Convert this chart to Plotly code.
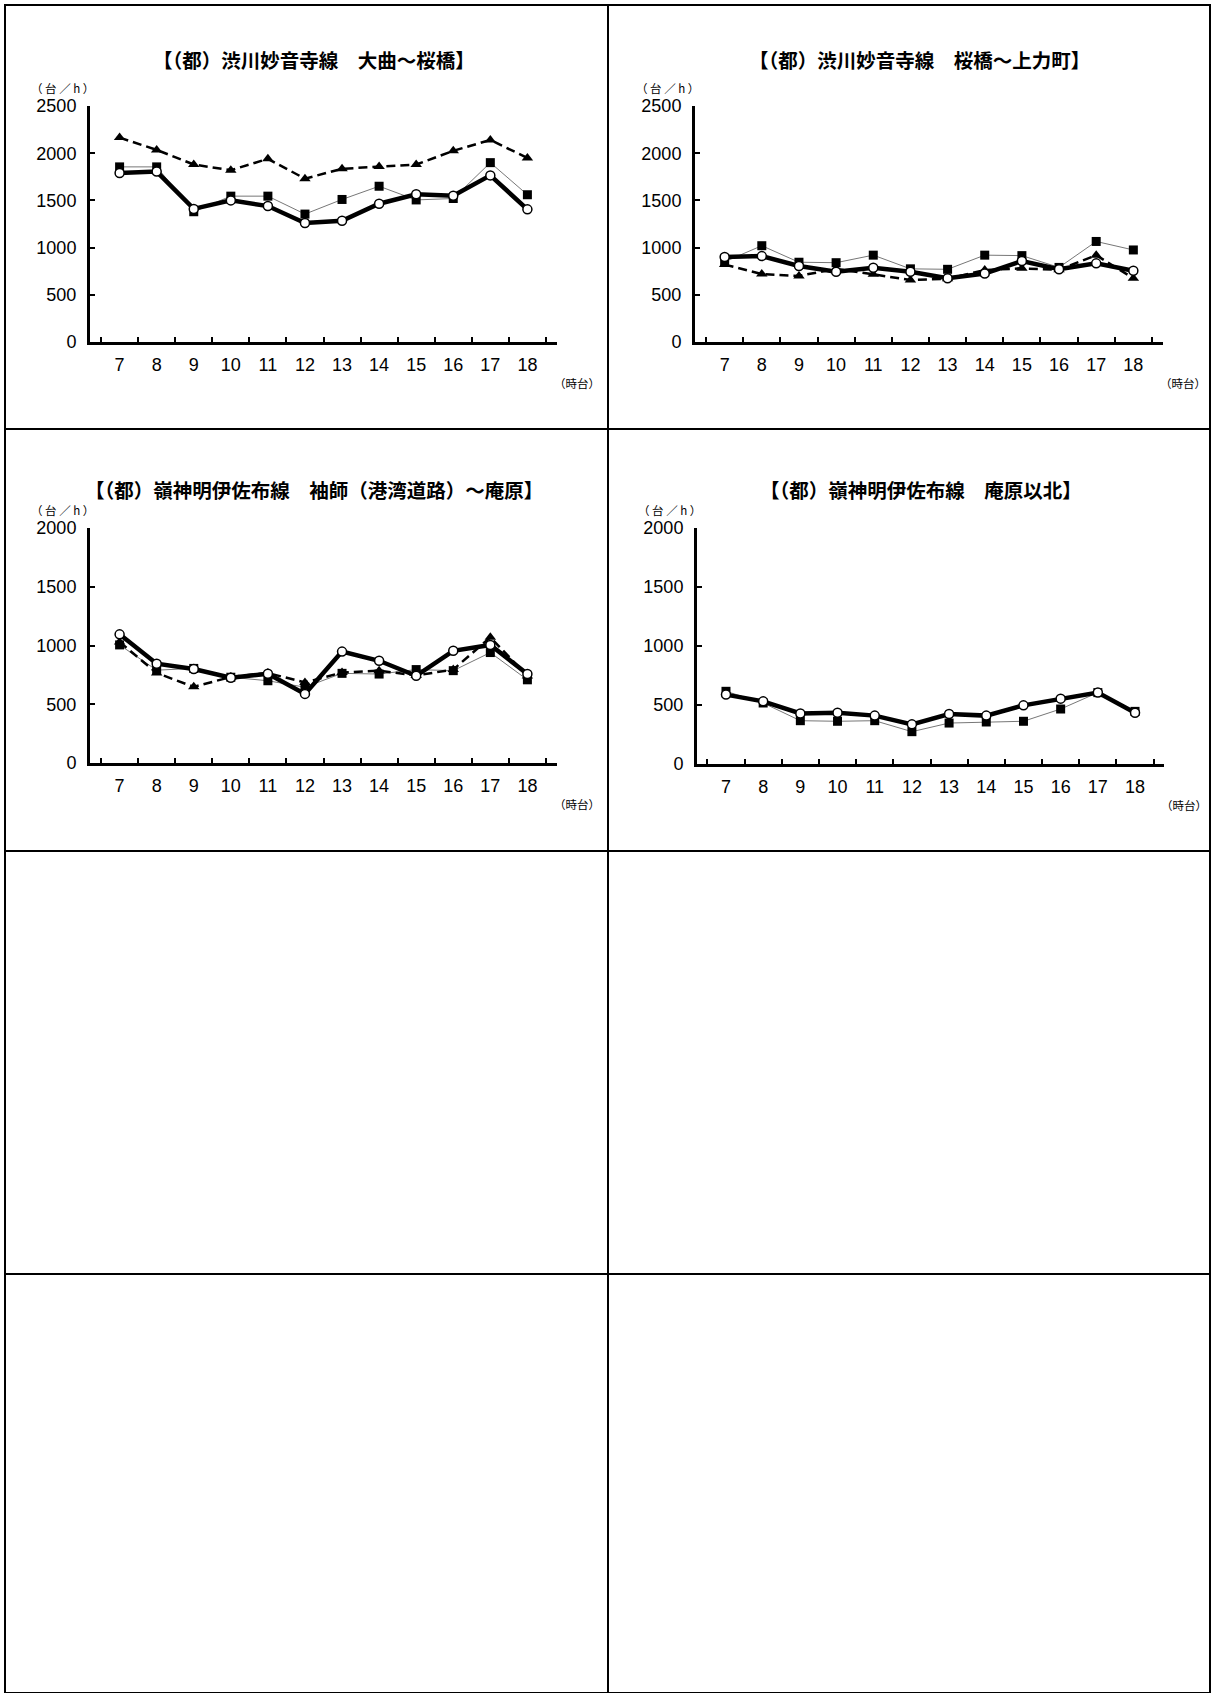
import plotly.graph_objects as go

W, H = 1213, 1693

hours = ["7", "8", "9", "10", "11", "12", "13", "14", "15", "16", "17", "18"]

titles = [
    "【（都）渋川妙音寺線　大曲～桜橋】",
    "【（都）渋川妙音寺線　桜橋～上力町】",
    "【（都）嶺神明伊佐布線　袖師（港湾道路）～庵原】",
    "【（都）嶺神明伊佐布線　庵原以北】",
]
y_max = [2500, 2500, 2000, 2000]

# series per panel: squares (thin grey), triangles (dashed), circles (thick)
p1_square = [1855, 1855, 1380, 1545, 1545, 1355, 1510, 1650, 1505, 1520, 1900, 1560]
p1_triangle = [2165, 2035, 1880, 1820, 1940, 1730, 1835, 1860, 1880, 2025, 2140, 1950]
p1_circle = [1790, 1805, 1410, 1500, 1440, 1260, 1285, 1465, 1565, 1550, 1765, 1405]

p2_square = [850, 1020, 845, 840, 920, 775, 770, 920, 915, 790, 1065, 975]
p2_triangle = [820, 720, 700, 775, 717, 657, 670, 763, 780, 765, 920, 675]
p2_circle = [900, 910, 805, 745, 787, 745, 675, 725, 858, 770, 833, 755]

p3_square = [1005, 790, 805, 730, 700, 645, 763, 757, 795, 786, 940, 708]
p3_triangle = [1030, 766, 648, 732, 766, 685, 770, 786, 745, 795, 1070, 740]
p3_circle = [1095, 845, 800, 725, 760, 588, 948, 870, 742, 955, 1005, 757]

p4_square = [616, 517, 367, 362, 367, 274, 347, 356, 362, 466, 605, 446]
p4_circle = [588, 531, 429, 435, 410, 336, 424, 410, 497, 554, 605, 435]

panels = [
    (p1_square, p1_triangle, p1_circle),
    (p2_square, p2_triangle, p2_circle),
    (p3_square, p3_triangle, p3_circle),
    (p4_square, None, p4_circle),
]

# plot areas in pixels: left, right, top, bottom
boxes = [
    (90, 557, 106, 342),
    (695, 1163, 106, 342),
    (90, 557, 528, 763),
    (697, 1164, 528, 764),
]

JP = "Noto Sans CJK JP"
NUM = "Liberation Sans, Arial, sans-serif"


def px(x):
    return x / W


def py(y):
    return 1 - y / H


fig = go.Figure()

for i, (sq, tri, circ) in enumerate(panels):
    n = "" if i == 0 else str(i + 1)
    xa, ya = "x" + n, "y" + n
    fig.add_trace(go.Scatter(
        x=hours, y=sq, xaxis=xa, yaxis=ya, mode="lines+markers",
        line=dict(color="#777777", width=1),
        marker=dict(symbol="square", size=9, color="black"),
        showlegend=False,
    ))
    if tri is not None:
        fig.add_trace(go.Scatter(
            x=hours, y=tri, xaxis=xa, yaxis=ya, mode="lines+markers",
            line=dict(color="black", width=2.5, dash="9px,5px"),
            marker=dict(symbol="triangle-up", size=10, color="black"),
            showlegend=False,
        ))
    fig.add_trace(go.Scatter(
        x=hours, y=circ, xaxis=xa, yaxis=ya, mode="lines+markers",
        line=dict(color="black", width=4.5),
        marker=dict(symbol="circle", size=9, color="white",
                    line=dict(color="black", width=1.5)),
        showlegend=False,
    ))

    l, r, t, b = boxes[i]
    fig.update_layout({
        "xaxis" + n: dict(
            domain=[px(l), px(r)], anchor=ya, type="category",
            tickson="boundaries", ticks="inside", ticklen=5, tickwidth=1.5,
            tickcolor="black", showline=True, linecolor="black", linewidth=3,
            showgrid=False, zeroline=False, ticklabelstandoff=4,
            automargin=False,
            tickfont=dict(family=NUM, size=18, color="black"),
        ),
        "yaxis" + n: dict(
            domain=[py(b), py(t)], anchor=xa, range=[0, y_max[i]], dtick=500,
            ticks="inside", ticklen=5, tickwidth=1.5, tickcolor="black",
            showline=True, linecolor="black", linewidth=3, showgrid=False,
            zeroline=False, ticklabelstandoff=7, automargin=False,
            tickfont=dict(family=NUM, size=18, color="black"),
        ),
    })

    cx = (l + r) / 2 - 10
    ty = 60 if i < 2 else 490
    fig.add_annotation(
        x=px(cx), y=py(ty), xref="paper", yref="paper", text=titles[i],
        showarrow=False, xanchor="center", yanchor="middle",
        font=dict(family=JP, size=19.5, color="black", weight="bold"),
    )
    fig.add_annotation(
        x=px(l - 61), y=py(t - 18), xref="paper", yref="paper",
        text="（ 台 ／ h ）",
        showarrow=False, xanchor="left", yanchor="middle",
        font=dict(family=JP, size=11.5, color="black"),
    )
    fig.add_annotation(
        x=px(r - 5), y=py(b + 41), xref="paper", yref="paper", text="（時台）",
        showarrow=False, xanchor="left", yanchor="middle",
        font=dict(family=JP, size=11.5, color="black"),
    )

# cell borders
border = dict(color="black", width=2)
fig.add_shape(type="rect", xref="paper", yref="paper",
              x0=px(5), x1=px(1210), y0=py(1693), y1=py(5), line=border)
fig.add_shape(type="line", xref="paper", yref="paper",
              x0=px(608), x1=px(608), y0=py(1693), y1=py(5), line=border)
for yy in [429, 851, 1274]:
    fig.add_shape(type="line", xref="paper", yref="paper",
                  x0=px(5), x1=px(1210), y0=py(yy), y1=py(yy), line=border)

fig.update_layout(
    width=W, height=H,
    margin=dict(l=0, r=0, t=0, b=0, pad=0, autoexpand=False),
    paper_bgcolor="white", plot_bgcolor="white",
)

# pin the chart to the page corner so the page is exactly the figure size
fig.write_html(
    "out.html",
    config={"displayModeBar": False},
    post_script=(
        "var gd=document.getElementById('{plot_id}');"
        "gd.style.position='fixed';gd.style.top='0';gd.style.left='0';"
        "document.body.style.margin='0';"
        "document.body.style.overflow='hidden';"
        "document.documentElement.style.overflow='hidden';"
    ),
)
